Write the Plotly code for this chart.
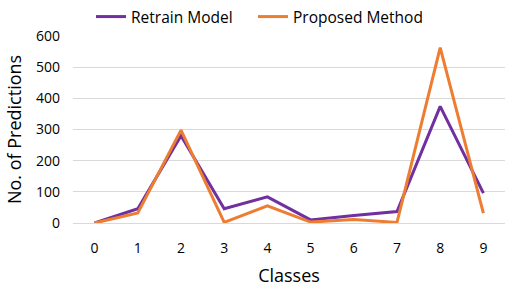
import plotly.graph_objects as go

classes = ["0", "1", "2", "3", "4", "5", "6", "7", "8", "9"]
retrain_model = [0, 46, 280, 46, 84, 10, 24, 37, 374, 96]
proposed_method = [0, 32, 298, 2, 55, 3, 11, 2, 563, 32]
y_ticks = [0, 100, 200, 300, 400, 500, 600]

FONT = "Open Sans, Liberation Sans, sans-serif"

W, H = 505, 287

fig = go.Figure()
fig.add_trace(go.Scatter(x=classes, y=retrain_model, mode="lines", name="Retrain Model",
                         line=dict(color="#7030A0", width=3), cliponaxis=False,
                         legend="legend"))
fig.add_trace(go.Scatter(x=classes, y=proposed_method, mode="lines", name="Proposed Method",
                         line=dict(color="#ED7D31", width=3), cliponaxis=False,
                         legend="legend2"))

legend_common = dict(orientation="h", xanchor="left", xref="container",
                     y=1.0, yanchor="top", yref="container",
                     font=dict(size=15.5, family=FONT), itemwidth=30,
                     bgcolor="rgba(0,0,0,0)")

fig.update_layout(
    width=W, height=H,
    margin=dict(l=73, r=0, t=36, b=64, autoexpand=False),
    paper_bgcolor="white", plot_bgcolor="white",
    font=dict(family=FONT, color="#000000", size=14),
    showlegend=True,
    legend=dict(x=91 / W, **legend_common),
    legend2=dict(x=253 / W, **legend_common),
    xaxis=dict(type="category", range=[-0.5, 9.5], showgrid=False, showline=False,
               ticks="", tickfont=dict(size=14), ticklabelstandoff=15, automargin=False,
               title=dict(text="Classes", font=dict(size=18), standoff=13)),
    yaxis=dict(range=[0, 600], tickvals=y_ticks, showgrid=True, gridcolor="#D9D9D9",
               gridwidth=1, zeroline=True, zerolinecolor="#D9D9D9", zerolinewidth=1,
               showline=False, ticks="", tickfont=dict(size=14), automargin=False,
               ticklabelstandoff=12,
               title=dict(text="No. of Predictions", font=dict(size=18), standoff=9)),
)

fig.write_html("out.html", config={"displayModeBar": False},
               post_script="document.body.style.margin='0';")
